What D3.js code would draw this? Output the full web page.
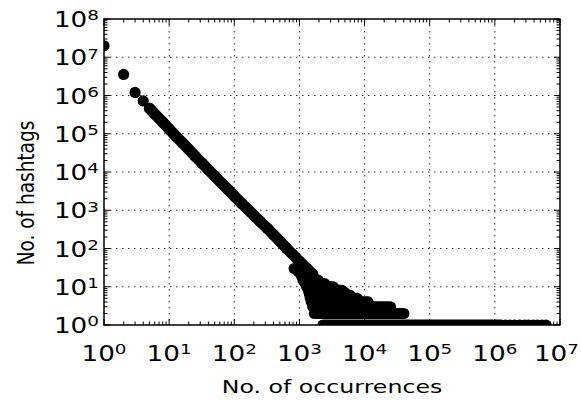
<!DOCTYPE html>
<html><head><meta charset="utf-8">
<script src="https://cdn.jsdelivr.net/npm/d3@7"></script>
<style>body{margin:0;background:#fff}svg{display:block}text{font-family:"DejaVu Sans",sans-serif;fill:#000}</style>
</head><body>
<svg id="c" width="582" height="402"></svg>
<script>
// ---- data ----
const xTickExps = [0,1,2,3,4,5,6,7];
const yTickExps = [0,1,2,3,4,5,6,7,8];
// main power-law band: occurrences -> number of hashtags
const mainX = [1,2,3,4,5,6,8,10,13,16,20,25,32,40,50,63,80,100,130,160,200,250,320,400,500,630,800,1000,1300,1600];
const mainY = [2.0e7,3.55e6,1.2e6,7.2e5,4.6e5,3.3e5,2.0e5,1.32e5,8.3e4,5.75e4,3.9e4,2.6e4,1.7e4,1.15e4,7800,5200,3500,2350,1500,1070,740,510,340,230,155,102,68,46,30,21];
// noisy tail: rows of points at small integer counts (count, first x, last x)
const tailY    = [2,3,4,5,6,7,8,10,12,15,20,25,30];
const tailXmin = [1700,1600,1520,1470,1440,1410,1380,1290,1230,1130,1060,960,830];
const tailXmax = [40000,25000,11300,7700,6000,5000,4500,3300,2450,1930,1500,1200,1050];
// single-occurrence row
const oneXmin = 2300, oneXmax = 1.25e6;
const oneX = [1.45e6,1.7e6,2.0e6,2.4e6,2.9e6,3.3e6,3.9e6,4.5e6,5.3e6,6.1e6];

// ---- layout ----
const L=104,R=560,T=19,B=325, r=5.6, SX=1.25;
const svg=d3.select("#c");
const x=d3.scaleLog().domain([1,1e7]).range([L,R]);
const y=d3.scaleLog().domain([1,1e8]).range([B,T]);

svg.append("clipPath").attr("id","clip").append("rect").attr("x",L).attr("y",T).attr("width",R-L).attr("height",B-T);

// grid
const g=svg.append("g");
g.selectAll(".gx").data(xTickExps.slice(1,-1)).enter().append("line")
 .attr("x1",d=>x(10**d)).attr("x2",d=>x(10**d)).attr("y1",T).attr("y2",B)
 .attr("stroke","#333").attr("stroke-width",1).attr("stroke-dasharray","1.5,4.5");
g.selectAll(".gy").data(yTickExps.slice(1,-1)).enter().append("line")
 .attr("y1",d=>y(10**d)).attr("y2",d=>y(10**d)).attr("x1",L).attr("x2",R)
 .attr("stroke","#333").attr("stroke-width",1).attr("stroke-dasharray","1.5,4.5");

// data
const p=svg.append("g").attr("clip-path","url(#clip)");
const bandStart=4;
const line=d3.line().x(d=>x(d[0])).y(d=>y(d[1]));
const bandPts=mainX.map((v,i)=>[v,mainY[i]]).slice(bandStart);
p.append("path").attr("d",line(bandPts)).attr("fill","none").attr("stroke","#000")
 .attr("stroke-width",2*r).attr("stroke-linecap","round").attr("stroke-linejoin","round");
p.selectAll("circle.m").data(mainX).enter().append("circle")
 .attr("cx",d=>x(d)).attr("cy",(d,i)=>y(mainY[i])).attr("r",r).attr("fill","#000");
p.selectAll("line.t").data(tailY).enter().append("line")
 .attr("x1",(d,i)=>x(tailXmin[i])).attr("x2",(d,i)=>x(tailXmax[i]))
 .attr("y1",d=>y(d)).attr("y2",d=>y(d))
 .attr("stroke","#000").attr("stroke-width",2*r).attr("stroke-linecap","round");
p.append("line").attr("x1",x(oneXmin)).attr("x2",x(oneXmax)).attr("y1",y(1)).attr("y2",y(1))
 .attr("stroke","#000").attr("stroke-width",2*r).attr("stroke-linecap","round");
p.selectAll("circle.o").data(oneX).enter().append("circle")
 .attr("cx",d=>x(d)).attr("cy",y(1)).attr("r",r).attr("fill","#000");

// ticks (inside, all four sides)
const minorX=[],minorY=[];
for(let e=0;e<7;e++)for(let k=2;k<10;k++)minorX.push(k*10**e);
for(let e=0;e<8;e++)for(let k=2;k<10;k++)minorY.push(k*10**e);
const tk=svg.append("g").attr("stroke","#000").attr("stroke-width",1);
const majL=6,minL=3.5;
xTickExps.forEach(e=>{const X=x(10**e);
 tk.append("line").attr("x1",X).attr("x2",X).attr("y1",B).attr("y2",B-majL);
 tk.append("line").attr("x1",X).attr("x2",X).attr("y1",T).attr("y2",T+majL);});
minorX.forEach(v=>{const X=x(v);
 tk.append("line").attr("x1",X).attr("x2",X).attr("y1",B).attr("y2",B-minL);
 tk.append("line").attr("x1",X).attr("x2",X).attr("y1",T).attr("y2",T+minL);});
yTickExps.forEach(e=>{const Y=y(10**e);
 tk.append("line").attr("x1",L).attr("x2",L+majL).attr("y1",Y).attr("y2",Y);
 tk.append("line").attr("x1",R).attr("x2",R-majL).attr("y1",Y).attr("y2",Y);});
minorY.forEach(v=>{const Y=y(v);
 tk.append("line").attr("x1",L).attr("x2",L+minL).attr("y1",Y).attr("y2",Y);
 tk.append("line").attr("x1",R).attr("x2",R-minL).attr("y1",Y).attr("y2",Y);});

// frame
svg.append("rect").attr("x",L).attr("y",T).attr("width",R-L).attr("height",B-T)
 .attr("fill","none").attr("stroke","#000").attr("stroke-width",1.5);

// tick labels (text is horizontally stretched in the original)
const fs=21, fsl=18.5;
function pow(sel,e){sel.append("tspan").text("10");
 sel.append("tspan").attr("dy","-0.45em").attr("font-size",fs*0.7).text(e);}
const xt=svg.selectAll("text.xt").data(xTickExps).enter().append("text")
 .attr("transform",d=>`translate(${x(10**d)},${B+36}) scale(${SX},1)`)
 .attr("text-anchor","middle").attr("font-size",fs)
 .each(function(d){pow(d3.select(this),d);});
// keep the last label inside the page
xt.each(function(d){const b=this.getBoundingClientRect();
 if(b.right>579){const X=x(10**d)-(b.right-579);
  d3.select(this).attr("transform",`translate(${X},${B+36}) scale(${SX},1)`);}});
svg.selectAll("text.yt").data(yTickExps).enter().append("text")
 .attr("transform",d=>`translate(${L-5},${y(10**d)+8}) scale(${SX},1)`)
 .attr("text-anchor","end").attr("font-size",fs)
 .each(function(d){pow(d3.select(this),d);});

// axis titles
svg.append("text").attr("transform",`translate(${(L+R)/2},393) scale(1.28,1)`)
 .attr("text-anchor","middle").attr("font-size",fsl).text("No. of occurrences");
svg.append("text").attr("transform",`translate(34,${(T+B)/2+21}) scale(1.28,1) rotate(-90)`)
 .attr("text-anchor","middle").attr("font-size",fsl).text("No. of hashtags");
</script>
</body></html>
